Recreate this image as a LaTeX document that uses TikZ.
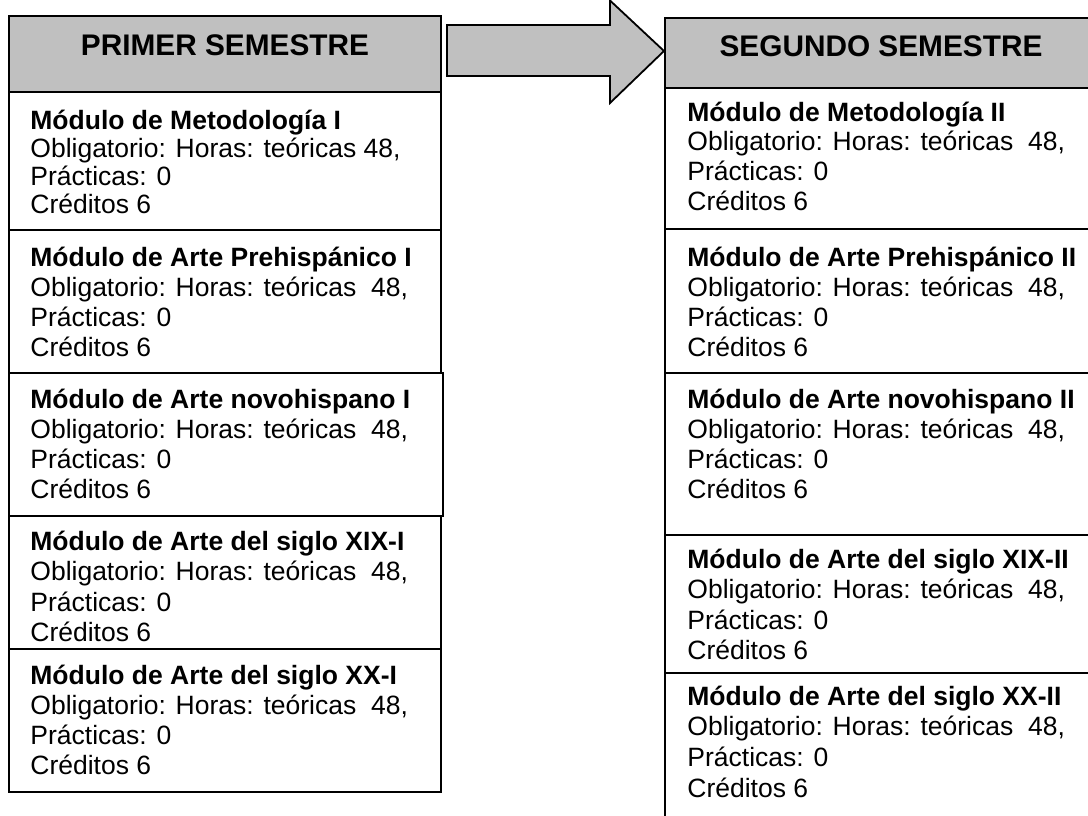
\documentclass[tikz,border=0pt]{standalone}
\usepackage{fontspec}
\setmainfont{Liberation Sans}
\usepackage{tikz}
\usetikzlibrary{positioning}

\definecolor{hdrgray}{RGB}{192,192,192}
\newcommand{\bodyfont}{\fontsize{13.25}{15}\selectfont}
\newcommand{\hdrfont}{\fontsize{14.9}{17}\selectfont\bfseries}

% one module: name, x, first baseline, line skip, title, gap before 48
\newcommand{\modulo}[6]{%
  \node[txt, font=\bodyfont\bfseries] (#1t) at (#2,#3) {#5};
  \node[txt] (#1h) at (#2,#3+#4) {Obligatorio: Horas: teóricas#648,};
  \node[txt] (#1p) at (#2,#3+2*#4) {Prácticas: 0};
  \node[txt] (#1c) at (#2,#3+3*#4) {Créditos 6};
}

\begin{document}
\begin{tikzpicture}[x=0.5pt, y=-0.5pt,
  hdr/.style={draw, fill=hdrgray, line width=0.9pt},
  cell/.style={draw, line width=0.9pt},
  txt/.style={anchor=base west, inner sep=0pt, font=\bodyfont},
  title/.style={anchor=base, inner sep=0pt, font=\hdrfont}]
\clip (0,0) rectangle (1088,815);

% first semester
\draw[hdr] (9,16) rectangle (441,92);
\draw[cell] (9,92) rectangle (441,230);
\draw[cell] (9,230) rectangle (441,373);
\draw[cell] (9,373) rectangle (443,516);
\draw[cell] (9,516) rectangle (441,649);
\draw[cell] (9,649) rectangle (441,792);
\node[title] (prim) at (225,55) {PRIMER SEMESTRE};

% arrow
\draw[hdr] (447,25) -- (610,25) -- (610,0.5) -- (664,51) -- (610,103)
  -- (610,76) -- (447,76) -- cycle;

% second semester
\draw[hdr] (665,18) rectangle (1100,88);
\draw[cell] (665,88) rectangle (1100,229);
\draw[cell] (665,229) rectangle (1100,373);
\draw[cell] (665,373) rectangle (1100,535);
\draw[cell] (665,535) rectangle (1100,673);
\draw[cell] (665,673) rectangle (1100,830);
\node[title] (seg) at (881,56) {SEGUNDO SEMESTRE};

\modulo{pa}{30}{129}{28}{Módulo de Metodología I}{~}
\modulo{pb}{30}{266}{30}{Módulo de Arte Prehispánico I}{~~}
\modulo{pc}{30}{408}{30}{Módulo de Arte novohispano I}{~~}
\modulo{pd}{30}{550}{30.5}{Módulo de Arte del siglo XIX-I}{~~}
\modulo{pe}{30}{684}{30.3}{Módulo de Arte del siglo XX-I}{~~}

\modulo{sa}{687}{121}{29.8}{Módulo de Metodología II}{~~}
\modulo{sb}{687}{266}{30}{Módulo de Arte Prehispánico II}{~~}
\modulo{sc}{687}{408}{30}{Módulo de Arte novohispano II}{~~}
\modulo{sd}{687}{568}{30.6}{Módulo de Arte del siglo XIX-II}{~~}
\modulo{se}{687}{705}{30.7}{Módulo de Arte del siglo XX-II}{~~}
\end{tikzpicture}
\end{document}
